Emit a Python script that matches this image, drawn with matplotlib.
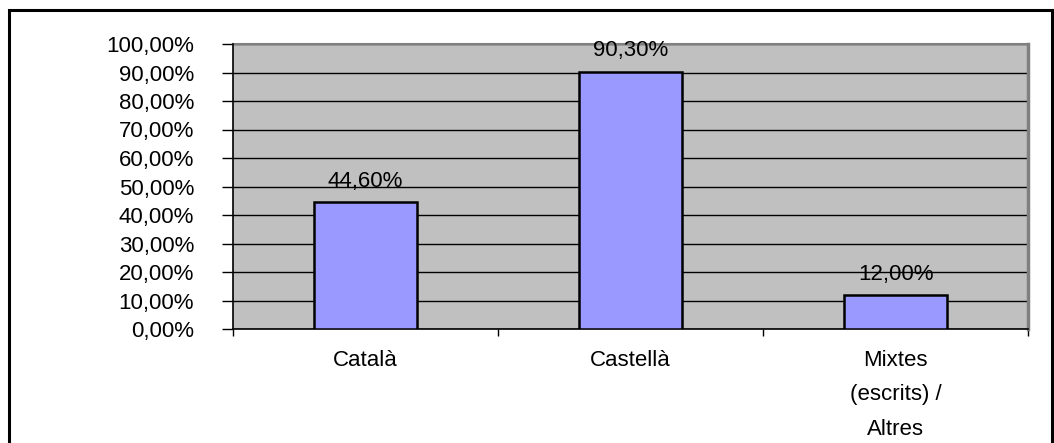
import matplotlib.pyplot as plt
from matplotlib.patches import Rectangle

categories = ['Català', 'Castellà', 'Mixtes\n(escrits) /\nAltres']
values = [44.6, 90.3, 12.0]
labels = ['44,60%', '90,30%', '12,00%']
yticks = list(range(0, 101, 10))

plt.rcParams['font.family'] = ['Liberation Sans', 'DejaVu Sans']

W, H = 1054, 443
fig = plt.figure(figsize=(W / 100, H / 100), dpi=100)
# outer chart border (runs past the bottom edge like the original)
fig.patches.append(Rectangle((8.5 / W, -10 / H), 1043 / W, (H - 10 + 10) / H,
                             transform=fig.transFigure, fill=False,
                             edgecolor='black', linewidth=2.2))

ax = fig.add_axes([233 / W, 1 - 329 / H, 795 / W, 285 / H])
ax.set_facecolor('#c0c0c0')

x = range(len(categories))
ax.bar(x, values, width=0.39, color='#9999ff', edgecolor='black', linewidth=1.8, zorder=3)
for i, v in enumerate(values):
    ax.annotate(labels[i], (i, v), xytext=(0, 11), textcoords='offset points',
                ha='center', va='baseline', fontsize=16, zorder=4)

ax.set_xlim(-0.5, 2.5)
ax.set_ylim(0, 100)
ax.set_yticks(yticks)
ax.set_yticklabels([f'{t},00%' for t in yticks], fontsize=16)
ax.yaxis.grid(True, color='black', linewidth=1, zorder=1)
ax.tick_params(axis='y', length=8, width=1, pad=20)

# category boundary ticks on x
ax.set_xticks([-0.5, 0.5, 1.5, 2.5])
ax.set_xticklabels([])
ax.set_xticks(list(x), minor=True)
ax.set_xticklabels(categories, minor=True, fontsize=16, va='top', linespacing=1.85)
ax.tick_params(axis='x', which='major', length=5, width=1)
ax.tick_params(axis='x', which='minor', length=0, pad=15)

ax.spines['top'].set_color('#808080')
ax.spines['top'].set_linewidth(1.5)
ax.spines['top'].set_zorder(2)
ax.spines['right'].set_color('#808080')
ax.spines['right'].set_linewidth(2.5)
ax.spines['left'].set_linewidth(1.2)
ax.spines['bottom'].set_linewidth(1.2)

fig.savefig('out.png', dpi=100)
